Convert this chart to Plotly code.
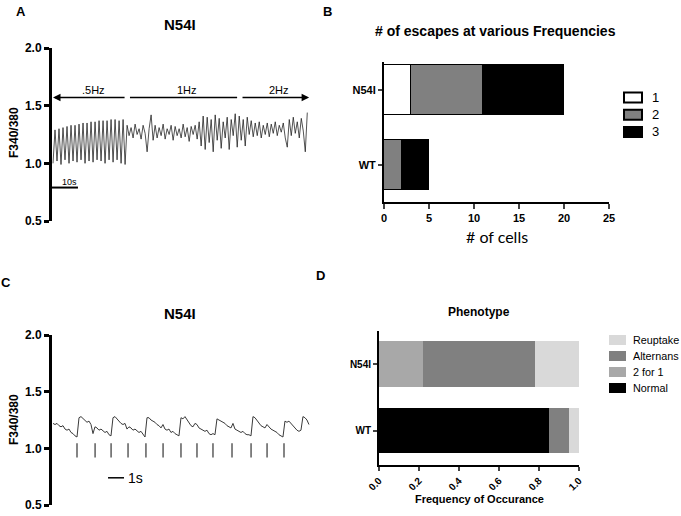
import numpy as np
import plotly.graph_objects as go

# ---- panel A : N54I ratio trace at 3 pacing rates (one sample every 0.77 s)
dt_a = 0.77
ratio_a = [
    # .5 Hz
    1.00, 1.29, 1.02, 1.30, 0.99, 1.31, 1.03, 1.32, 1.00, 1.33,
    1.02, 1.33, 1.01, 1.34, 1.03, 1.35, 1.00, 1.35, 1.02, 1.36,
    1.01, 1.36, 1.03, 1.37, 1.02, 1.37, 1.00, 1.37, 1.03, 1.38,
    1.01, 1.38, 1.03, 1.37, 1.00, 1.38, 0.99,
    # 1 Hz
    1.33, 1.24, 1.31, 1.22, 1.34, 1.25, 1.30, 1.21, 1.33, 1.26,
    1.10, 1.30, 1.42, 1.20,
    1.33, 1.22, 1.31, 1.24, 1.34, 1.21, 1.30, 1.25, 1.33, 1.20,
    1.32, 1.24, 1.30, 1.22, 1.34, 1.23, 1.31, 1.19, 1.32, 1.25,
    1.33, 1.21,
    1.36, 1.15, 1.41, 1.12, 1.40, 1.18, 1.38, 1.10, 1.42, 1.20,
    1.39, 1.13, 1.36, 1.22, 1.40, 1.12, 1.38, 1.24, 1.43,
    # 2 Hz
    1.14, 1.41, 1.20, 1.38, 1.15, 1.40, 1.25, 1.37,
    1.23, 1.35, 1.24, 1.36, 1.22, 1.33, 1.25, 1.35, 1.23, 1.34,
    1.26, 1.36, 1.24, 1.33, 1.27, 1.35, 1.22,
    1.14, 1.38, 1.24, 1.40, 1.26, 1.36, 1.22, 1.39, 1.28, 1.10, 1.44,
]
freq_labels = [".5Hz", "1Hz", "2Hz"]
freq_start = [0, 29.6, 72.3]
freq_end = [28.1, 70.8, 98.5]

# ---- panel B : number of escapes
genotypes = ["WT", "N54I"]
esc_names = ["1", "2", "3"]
esc_1 = [0, 3]
esc_2 = [2, 8]
esc_3 = [3, 9]

# ---- panel C : N54I trace at 1 Hz (one sample every 0.125 s)
dt_c = 0.125
ratio_c = [
    1.22, 1.21, 1.22, 1.20, 1.19, 1.20, 1.17, 1.16, 1.17, 1.14,
    1.13, 1.11, 1.10, 1.27, 1.28, 1.26, 1.25, 1.23, 1.24, 1.21,
    1.13, 1.19, 1.18, 1.16, 1.17, 1.15, 1.14, 1.15, 1.12, 1.11,
    1.27, 1.28, 1.26, 1.24, 1.22, 1.21, 1.22, 1.17, 1.19, 1.18,
    1.16, 1.17, 1.15, 1.14, 1.15, 1.12, 1.10, 1.27, 1.27, 1.25,
    1.24, 1.23, 1.21, 1.20, 1.18, 1.21, 1.17, 1.16, 1.17, 1.14,
    1.15, 1.13, 1.12, 1.11, 1.27, 1.26, 1.28, 1.25, 1.22, 1.20,
    1.19, 1.22, 1.21, 1.18, 1.17, 1.16, 1.15, 1.16, 1.13, 1.12,
    1.13, 1.12, 1.26, 1.25, 1.24, 1.23, 1.22, 1.20, 1.19, 1.18,
    1.22, 1.17, 1.16, 1.15, 1.14, 1.15, 1.13, 1.12, 1.12, 1.11,
    1.28, 1.27, 1.25, 1.22, 1.20, 1.19, 1.18, 1.21, 1.19, 1.17,
    1.16, 1.15, 1.14, 1.12, 1.11, 1.10, 1.24, 1.23, 1.24, 1.22,
    1.20, 1.18, 1.16, 1.15, 1.16, 1.28, 1.27, 1.25, 1.21,
]
stim_times = [1.50, 2.63, 3.63, 4.69, 5.81, 6.88, 8.0, 9.0, 10.0,
              11.19, 12.38, 13.38, 14.44]

# ---- panel D : phenotype frequencies
phen_names = ["Normal", "2 for 1", "Alternans", "Reuptake"]
phen_normal = [0.85, 0]
phen_2for1 = [0, 0.222]
phen_alternans = [0.10, 0.556]
phen_reuptake = [0.05, 0.222]

FONT = "Liberation Sans, Arial"
W, H = 681, 516
esc_colors = ["white", "#808080", "black"]
phen_colors = ["black", "#a8a8a8", "#808080", "#d9d9d9"]


def px(x):
    return x / W


def py(y):
    return 1 - y / H


fig = go.Figure()

t_a = np.arange(len(ratio_a)) * dt_a
fig.add_trace(go.Scatter(x=t_a, y=ratio_a, mode="lines", line=dict(color="#1a1a1a", width=0.75),
                         showlegend=False, xaxis="x", yaxis="y"))

for vals, name, col in zip([esc_1, esc_2, esc_3], esc_names, esc_colors):
    fig.add_trace(go.Bar(y=genotypes, x=vals, name=name, orientation="h", width=0.667,
                         marker=dict(color=col, line=dict(color="black", width=1.5)),
                         xaxis="x2", yaxis="y2", showlegend=False))

t_c = np.arange(len(ratio_c)) * dt_c
fig.add_trace(go.Scatter(x=t_c, y=ratio_c, mode="lines", line=dict(color="#3a3a3a", width=1),
                         showlegend=False, xaxis="x3", yaxis="y3"))
sx, sy = [], []
for s in stim_times:
    sx += [s, s, None]
    sy += [0.92, 1.045, None]
fig.add_trace(go.Scatter(x=sx, y=sy, mode="lines", line=dict(color="#333333", width=1.2),
                         showlegend=False, xaxis="x3", yaxis="y3"))

for vals, name, col in zip([phen_normal, phen_2for1, phen_alternans, phen_reuptake],
                           phen_names, phen_colors):
    fig.add_trace(go.Bar(y=genotypes, x=vals, name=name, orientation="h", width=0.69,
                         marker=dict(color=col, line=dict(width=0)),
                         xaxis="x4", yaxis="y4", showlegend=False))

ratio_axis = dict(range=[0.5, 2.0], tickvals=[0.5, 1.0, 1.5, 2.0], tickformat=".1f",
                  showline=True, linewidth=3, linecolor="black", ticks="outside", ticklen=5,
                  tickwidth=2.5, tickcolor="black", showgrid=False, zeroline=False,
                  tickfont=dict(size=12, weight="bold", color="black"))

fig.update_layout(
    width=W, height=H, margin=dict(l=0, r=0, t=0, b=0, autoexpand=False),
    paper_bgcolor="white", plot_bgcolor="white",
    font=dict(family=FONT, color="black"),
    barmode="stack", bargap=0,
    xaxis=dict(domain=[px(52), px(312)], range=[-0.385, 99.6], visible=False),
    yaxis=dict(domain=[py(221), py(48)], **ratio_axis),
    xaxis2=dict(domain=[px(384), px(609)], range=[0, 25], tickvals=[0, 5, 10, 15, 20, 25],
                showline=True, linewidth=2, linecolor="black", ticks="outside", ticklen=5,
                tickwidth=2, showgrid=False, zeroline=False, anchor="y2",
                tickfont=dict(size=11, weight="bold")),
    yaxis2=dict(domain=[py(202), py(62)], type="category", range=[-0.49, 1.37],
                showline=True, linewidth=2, linecolor="black", ticks="outside", ticklen=4,
                tickwidth=2, showgrid=False, anchor="x2",
                tickfont=dict(size=11, weight="bold")),
    xaxis3=dict(domain=[px(52), px(312)], range=[-0.0625, 16.19], visible=False, anchor="y3"),
    yaxis3=dict(domain=[py(505), py(335)], anchor="x3", **ratio_axis),
    xaxis4=dict(domain=[px(379), px(579)], range=[0, 1], tickvals=[0, 0.2, 0.4, 0.6, 0.8, 1.0],
                tickformat=".1f", tickangle=-45, showline=True, linewidth=2, linecolor="black",
                ticks="outside", ticklen=4, tickwidth=2, showgrid=False, zeroline=False,
                anchor="y4", tickfont=dict(size=10, weight="bold")),
    yaxis4=dict(domain=[py(465), py(331)], type="category", range=[-0.52, 1.50],
                showline=True, linewidth=2, linecolor="black", ticks="outside", ticklen=4,
                tickwidth=2, showgrid=False, anchor="x4",
                tickfont=dict(size=10, weight="bold")),
    showlegend=False,
)

ann = []


def label(x, y, text, size, bold=True, family=FONT, xanchor="center", **kw):
    ann.append(dict(x=px(x), y=py(y), xref="paper", yref="paper", text=text, showarrow=False,
                    xanchor=xanchor, yanchor="middle",
                    font=dict(size=size, weight="bold" if bold else "normal", color="black",
                              family=family), **kw))


label(21, 11, "A", 13)
label(327, 11, "B", 13)
label(6, 282, "C", 13)
label(320, 275, "D", 13)
label(180, 25, "N54I", 15)
label(180, 313, "N54I", 15)
label(495, 31, "# of escapes at various Frequencies", 14)
label(497, 237, "# of cells", 16, bold=False, family="Lato")
label(479, 312, "Phenotype", 12)
label(479, 499, "Frequency of Occurance", 11)
label(14, 133, "F340/380", 12, textangle=-90)
label(14, 420, "F340/380", 12, textangle=-90)

# hand-placed legends (GraphPad-like compact rows)
for i, (name, col) in enumerate(zip(esc_names, esc_colors)):
    yc = 97.5 + i * 17.2
    fig.add_shape(type="rect", xref="paper", yref="paper", x0=px(624), x1=px(642),
                  y0=py(yc + 5), y1=py(yc - 5), fillcolor=col, line=dict(color="black", width=2))
    label(650, yc, name, 13, bold=False, xanchor="left")
for i, name in enumerate(phen_names[::-1]):
    col = phen_colors[::-1][i]
    yc = 340 + i * 16
    fig.add_shape(type="rect", xref="paper", yref="paper", x0=px(609), x1=px(626),
                  y0=py(yc + 5), y1=py(yc - 5), fillcolor=col, line=dict(width=0))
    label(631, yc, name, 10.8, bold=False, xanchor="left")

# frequency arrows in panel A
y_arrow = 1.57
ann.append(dict(x=freq_start[0], y=y_arrow, ax=freq_end[0], ay=y_arrow, xref="x", yref="y",
                axref="x", ayref="y", text="", showarrow=True, arrowhead=2, arrowsize=1,
                arrowwidth=1.5, arrowcolor="black"))
ann.append(dict(x=freq_end[2], y=y_arrow, ax=freq_start[2], ay=y_arrow, xref="x", yref="y",
                axref="x", ayref="y", text="", showarrow=True, arrowhead=2, arrowsize=1,
                arrowwidth=1.5, arrowcolor="black"))
for lab, s, e in zip(freq_labels, freq_start, freq_end):
    ann.append(dict(x=(s + e) / 2 + 1.5, y=1.64, xref="x", yref="y", text=lab, showarrow=False,
                    font=dict(size=11, color="black")))
ann.append(dict(x=2.5, y=0.84, xref="x", yref="y", text="10s", showarrow=False, xanchor="left",
                font=dict(size=9, color="black")))
ann.append(dict(x=4.55, y=0.74, xref="x3", yref="y3", text="1s", showarrow=False, xanchor="left",
                font=dict(size=14, color="black")))
fig.update_layout(annotations=ann)

fig.add_shape(type="line", xref="x", yref="y", x0=freq_start[1], x1=freq_end[1], y0=y_arrow,
              y1=y_arrow, line=dict(color="black", width=1.5))
fig.add_shape(type="line", xref="x", yref="y", x0=-0.385, x1=9.6, y0=0.79, y1=0.79,
              line=dict(color="black", width=2))
fig.add_shape(type="line", xref="x3", yref="y3", x0=3.44, x1=4.44, y0=0.74, y1=0.74,
              line=dict(color="black", width=1.5))

# drop the browser's default body margin so the figure sits at the page origin
fig.write_html("out.html", config={"displayModeBar": False},
               post_script="document.body.style.margin='0px';")
